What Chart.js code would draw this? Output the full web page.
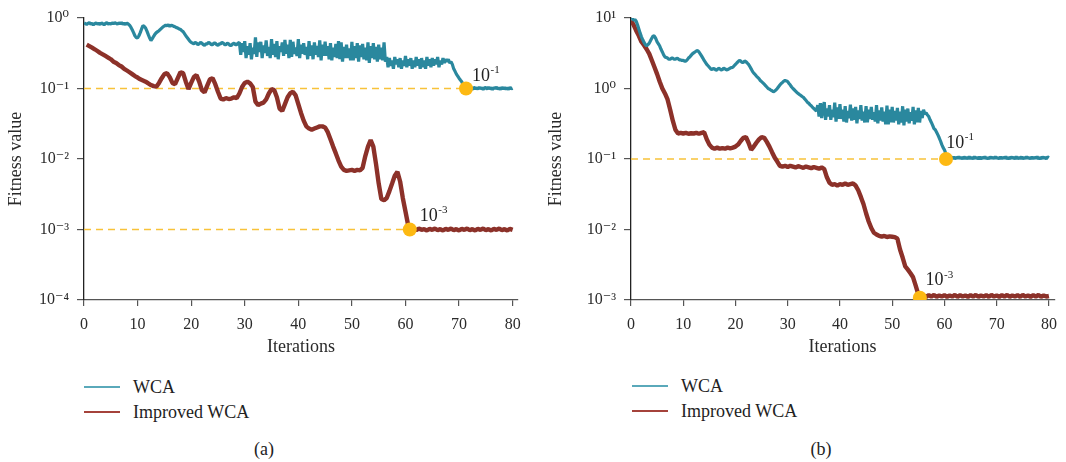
<!DOCTYPE html>
<html><head><meta charset="utf-8">
<script src="https://cdn.jsdelivr.net/npm/chart.js@4.4.1/dist/chart.umd.min.js"></script>
<style>
body{margin:0;width:1066px;height:462px;background:#fff;position:relative;overflow:hidden;font-family:'Liberation Serif','DejaVu Serif',serif;color:#222}
canvas{position:absolute;top:0}
#ca{left:0}
#cb{left:540px}
.lline{position:absolute;height:2px;width:36px}
.ltxt{position:absolute;font-size:18px;line-height:18px;transform:translateY(-50%);white-space:nowrap}
.cap{position:absolute;font-size:18px;line-height:18px;transform:translate(-50%,-50%)}
</style></head>
<body>
<canvas id="ca" width="530" height="370"></canvas>
<canvas id="cb" width="526" height="370"></canvas>

<div class="lline" style="left:84px;top:386px;background:#5aa9ba"></div>
<div class="ltxt" style="left:133px;top:387px">WCA</div>
<div class="lline" style="left:84px;top:411px;background:#a5423b"></div>
<div class="ltxt" style="left:133px;top:412px">Improved WCA</div>
<div class="cap" style="left:264px;top:449px">(a)</div>

<div class="lline" style="left:632px;top:385px;background:#5aa9ba"></div>
<div class="ltxt" style="left:681px;top:386px">WCA</div>
<div class="lline" style="left:632px;top:410px;background:#a5423b"></div>
<div class="ltxt" style="left:681px;top:411px">Improved WCA</div>
<div class="cap" style="left:821px;top:449px">(b)</div>

<script>
// ---------- data ----------
const iterationsFine = Array.from({length:321},(_,i)=>i/4); // 0, 0.25, ... 80  (WCA series)
const iterations = Array.from({length:161},(_,i)=>i/2);     // 0, 0.5, ... 80   (Improved WCA series)
const xTicks = [0,10,20,30,40,50,60,70,80];

const yTicksA = [1e-4,1e-3,1e-2,1e-1,1];
const yTickLabelsA = ['10⁻⁴','10⁻³','10⁻²','10⁻¹','10⁰'];
const yTicksB = [1e-3,1e-2,1e-1,1,10];
const yTickLabelsB = ['10⁻³','10⁻²','10⁻¹','10⁰','10¹'];

const wcaA = [
0.85,0.83,0.81,0.84,0.86,0.82,0.84,0.80,0.83,0.85,0.82,0.84,0.81,0.85,0.83,0.80,0.84,0.86,0.82,0.84,
0.82,0.85,0.83,0.86,0.84,0.82,0.85,0.83,0.86,0.82,0.84,0.81,0.85,0.82,0.79,0.74,0.68,0.62,0.56,0.53,
0.52,0.56,0.62,0.70,0.78,0.76,0.72,0.65,0.58,0.52,0.48,0.51,0.55,0.59,0.62,0.64,0.66,0.69,0.72,0.75,
0.77,0.79,0.78,0.80,0.76,0.79,0.78,0.76,0.75,0.73,0.72,0.70,0.69,0.66,0.64,0.60,0.56,0.53,0.50,0.47,
0.45,0.44,0.43,0.45,0.44,0.42,0.43,0.45,0.44,0.42,0.41,0.43,0.43,0.45,0.44,0.42,0.42,0.44,0.44,0.42,
0.41,0.43,0.43,0.45,0.44,0.42,0.42,0.44,0.43,0.41,0.41,0.43,0.44,0.42,0.42,0.44,0.45,0.30,0.44,0.33,
0.47,0.27,0.40,0.30,0.44,0.26,0.38,0.31,0.53,0.28,0.45,0.33,0.46,0.27,0.41,0.32,0.48,0.29,0.39,0.27,
0.50,0.30,0.43,0.28,0.47,0.26,0.40,0.33,0.45,0.29,0.49,0.31,0.42,0.27,0.49,0.28,0.46,0.31,0.38,0.29,
0.50,0.27,0.42,0.31,0.44,0.30,0.39,0.26,0.47,0.29,0.41,0.26,0.45,0.30,0.40,0.28,0.48,0.25,0.42,0.29,
0.46,0.29,0.40,0.26,0.44,0.25,0.38,0.28,0.43,0.27,0.47,0.26,0.45,0.24,0.39,0.27,0.42,0.27,0.37,0.25,
0.46,0.25,0.40,0.27,0.44,0.24,0.41,0.28,0.43,0.26,0.38,0.25,0.45,0.23,0.40,0.27,0.44,0.26,0.39,0.24,
0.42,0.26,0.38,0.25,0.45,0.24,0.28,0.20,0.27,0.21,0.25,0.19,0.28,0.22,0.26,0.20,0.27,0.19,0.25,0.21,
0.29,0.20,0.26,0.21,0.27,0.19,0.25,0.20,0.28,0.21,0.26,0.19,0.27,0.20,0.25,0.19,0.28,0.21,0.26,0.20,
0.27,0.21,0.26,0.22,0.28,0.20,0.25,0.22,0.27,0.23,0.26,0.24,0.26,0.23,0.24,0.22,0.19,0.175,0.16,0.15,
0.14,0.132,0.125,0.115,0.108,0.103,0.100,0.104,0.099,0.103,0.097,0.104,0.100,0.102,0.098,0.104,0.099,0.103,0.097,0.102,
0.103,0.098,0.104,0.099,0.102,0.097,0.103,0.100,0.104,0.098,0.102,0.097,0.104,0.099,0.103,0.098,0.102,0.097,0.104,0.099,
0.101];

const improvedA = [
null,0.42,0.40,0.38,0.36,0.34,0.32,0.305,0.29,0.275,
0.26,0.24,0.23,0.215,0.205,0.19,0.18,0.17,0.16,0.15,
0.143,0.135,0.13,0.125,0.118,0.112,0.108,0.106,0.12,0.14,
0.16,0.165,0.145,0.12,0.115,0.14,0.17,0.165,0.125,0.098,
0.12,0.145,0.155,0.125,0.095,0.088,0.11,0.135,0.14,0.115,
0.09,0.072,0.07,0.073,0.071,0.072,0.075,0.073,0.085,0.105,
0.12,0.125,0.118,0.105,0.065,0.058,0.061,0.063,0.07,0.085,
0.098,0.095,0.075,0.052,0.048,0.06,0.075,0.086,0.09,0.08,
0.06,0.045,0.035,0.029,0.027,0.026,0.027,0.028,0.029,0.029,
0.028,0.024,0.019,0.015,0.012,0.0095,0.0078,0.0070,0.0068,0.0069,
0.0070,0.0068,0.0070,0.0069,0.0075,0.011,0.015,0.0185,0.015,0.0085,
0.0045,0.0027,0.0026,0.0028,0.0035,0.0045,0.0058,0.0066,0.0048,0.0028,
0.0018,0.00115,0.00100,0.00102,0.00098,0.00103,0.00099,0.00101,0.00097,0.00102,
0.00099,0.00103,0.00098,0.00101,0.00097,0.00102,0.00099,0.00103,0.00098,0.00101,
0.00097,0.00102,0.00099,0.00103,0.00098,0.00101,0.00097,0.00102,0.00099,0.00103,
0.00098,0.00101,0.00097,0.00102,0.00099,0.00103,0.00098,0.00101,0.00097,0.00102,
0.00099];

const wcaB = [
9.7,9.9,9.3,9.5,9.0,8.0,7.0,6.1,5.4,4.9,4.5,4.2,4.0,4.2,4.4,4.8,5.2,5.6,5.5,5.1,
4.6,4.3,4.0,3.6,3.3,3.0,2.8,2.75,2.7,2.6,2.6,2.7,2.7,2.6,2.6,2.68,2.65,2.55,2.55,2.5,
2.5,2.45,2.45,2.55,2.7,2.8,2.95,3.1,3.2,3.3,3.4,3.45,3.3,3.1,2.9,2.7,2.5,2.35,2.2,2.1,
2.0,1.9,1.85,1.92,1.9,1.82,1.85,1.93,1.9,1.83,1.86,1.94,1.9,1.84,1.85,1.9,1.95,1.98,2.0,2.1,
2.2,2.3,2.4,2.5,2.45,2.35,2.35,2.45,2.4,2.3,2.2,2.05,1.9,1.75,1.65,1.58,1.5,1.44,1.38,1.3,
1.25,1.2,1.15,1.1,1.05,1.0,0.98,0.95,0.93,0.9,0.92,0.95,1.0,1.06,1.12,1.18,1.22,1.27,1.3,1.28,
1.25,1.18,1.12,1.05,1.0,0.96,0.92,0.88,0.85,0.82,0.8,0.77,0.75,0.71,0.68,0.64,0.62,0.59,0.57,0.54,
0.52,0.50,0.48,0.58,0.40,0.62,0.38,0.55,0.64,0.36,0.52,0.40,0.58,0.36,0.50,0.39,0.63,0.34,0.54,0.37,
0.60,0.37,0.50,0.34,0.56,0.33,0.48,0.38,0.59,0.35,0.52,0.36,0.55,0.32,0.49,0.37,0.58,0.35,0.47,0.33,
0.56,0.33,0.50,0.37,0.55,0.36,0.46,0.34,0.58,0.32,0.49,0.35,0.54,0.34,0.47,0.31,0.57,0.31,0.50,0.33,
0.55,0.33,0.48,0.35,0.53,0.31,0.47,0.33,0.56,0.30,0.50,0.34,0.52,0.32,0.46,0.35,0.55,0.31,0.49,0.33,
0.53,0.33,0.48,0.38,0.50,0.44,0.45,0.42,0.40,0.36,0.33,0.30,0.27,0.26,0.24,0.22,0.20,0.18,0.16,0.145,
0.135,0.12,0.11,0.103,0.102,0.108,0.101,0.107,0.100,0.106,0.102,0.108,0.101,0.106,0.100,0.107,0.102,0.105,0.101,0.108,
0.101,0.106,0.100,0.108,0.102,0.105,0.101,0.107,0.100,0.106,0.102,0.108,0.101,0.105,0.100,0.107,0.102,0.106,0.101,0.108,
0.102,0.105,0.100,0.107,0.101,0.106,0.102,0.108,0.100,0.105,0.101,0.107,0.102,0.106,0.100,0.108,0.101,0.105,0.102,0.107,
0.100,0.106,0.101,0.108,0.102,0.105,0.100,0.107,0.101,0.106,0.102,0.108,0.100,0.105,0.101,0.107,0.102,0.106,0.100,0.107,
0.104];

const improvedB = [
9.2,8.0,6.6,5.6,4.6,4.1,3.6,3.1,2.5,2.0,
1.6,1.25,1.0,0.85,0.7,0.5,0.35,0.26,0.23,0.235,
0.23,0.235,0.228,0.232,0.23,0.235,0.228,0.235,0.24,0.19,
0.16,0.145,0.14,0.145,0.14,0.143,0.14,0.145,0.142,0.145,
0.15,0.16,0.18,0.2,0.205,0.17,0.135,0.15,0.17,0.19,
0.205,0.2,0.175,0.15,0.125,0.105,0.092,0.08,0.078,0.08,
0.077,0.08,0.078,0.076,0.079,0.077,0.075,0.078,0.076,0.074,
0.077,0.075,0.073,0.076,0.072,0.055,0.046,0.043,0.044,0.042,
0.044,0.043,0.045,0.043,0.044,0.045,0.042,0.036,0.029,0.023,
0.017,0.013,0.0105,0.009,0.0085,0.0081,0.0079,0.0081,0.0078,0.008,
0.0079,0.0078,0.0074,0.0052,0.004,0.003,0.0027,0.0024,0.0021,0.0016,
0.0012,0.00112,0.00116,0.00111,0.00117,0.00112,0.00118,0.00111,0.00116,0.00112,
0.00117,0.00111,0.00116,0.00112,0.00118,0.00111,0.00117,0.00112,0.00116,0.00111,
0.00117,0.00112,0.00118,0.00111,0.00116,0.00112,0.00117,0.00111,0.00118,0.00112,
0.00116,0.00111,0.00117,0.00112,0.00118,0.00111,0.00116,0.00112,0.00117,0.00111,
0.00118,0.00112,0.00116,0.00111,0.00117,0.00112,0.00118,0.00111,0.00116,0.00112,
0.00114];

// convergence markers (iteration, value, exponent label)
const markA_x = [71.3, 60.8];
const markA_y = [0.1, 0.001];
const markA_sup = ['-1', '-3'];
const markB_x = [60.3, 55.3];
const markB_y = [0.1, 0.00108];
const markB_sup = ['-1', '-3'];

// ---------- styling ----------
const FONT = "'Liberation Serif','DejaVu Serif',serif";
const TEAL = '#2a889e';
const RED = '#8c3129';
const GOLD = '#fdb913';
const DASH = '#f8c23a';

function pts(xs, ys){ return xs.map((x,i)=>({x, y: ys[i]})).filter(p=>p.y!=null && p.y!==undefined); }

const supLabels = {
  id:'supLabels',
  afterDatasetsDraw(chart, args, opts){
    const {ctx} = chart; const x = chart.scales.x, y = chart.scales.y;
    (opts.items||[]).forEach(it=>{
      const px = x.getPixelForValue(it.x) + it.dx;
      const py = y.getPixelForValue(it.y) + it.dy;
      ctx.save();
      ctx.fillStyle = '#222'; ctx.textBaseline = 'middle'; ctx.textAlign = 'left';
      ctx.font = '18px ' + FONT;
      ctx.fillText('10', px, py);
      const w = ctx.measureText('10').width;
      ctx.font = '11px ' + FONT;
      ctx.fillText(it.sup, px + w + 0.5, py - 6);
      ctx.restore();
    });
  }
};

function makeChart(id, cfg){
  const datasets = [
    {label:'WCA', data: pts(iterationsFine, cfg.wca), borderColor: TEAL, borderWidth: 3.2, pointRadius: 0, tension: 0, borderJoinStyle:'bevel', order: cfg.wcaOrder},
    {label:'Improved WCA', data: pts(iterations, cfg.imp), borderColor: RED, borderWidth: 4.4, pointRadius: 0, tension: 0, borderJoinStyle:'bevel', order: cfg.impOrder},
    {label:'markers', data: pts(cfg.mx, cfg.my), showLine:false, pointRadius: 7, pointHoverRadius: 7, pointBackgroundColor: GOLD, pointBorderWidth: 0, order: 0}
  ];
  cfg.dashes.forEach((d,i)=>{
    datasets.push({label:'dash'+i, data: [{x:0, y:d[1]}, {x:d[0], y:d[1]}], borderColor: DASH, borderWidth: 1.4, borderDash:[7,5], pointRadius:0, order: 5});
  });
  return new Chart(document.getElementById(id), {
    type:'line',
    data:{datasets},
    plugins:[supLabels],
    options:{
      responsive:false, animation:false, events:[],
      layout:{padding:{top:18, right: cfg.padRight, left:0, bottom:0}},
      plugins:{legend:{display:false}, tooltip:{enabled:false},
        supLabels:{items: cfg.mx.map((x,i)=>({x, y: cfg.my[i], sup: cfg.sup[i], dx: cfg.lblOff[i][0], dy: cfg.lblOff[i][1]}))}},
      scales:{
        x:{type:'linear', min:0, max:81,
          afterBuildTicks: s => { s.ticks = xTicks.map(v=>({value:v})); },
          afterFit: s => { s.height = 70; },
          ticks:{font:{family:FONT, size:16}, color:'#2a2a2a', padding:9, maxRotation:0},
          grid:{display:true, drawOnChartArea:false, drawTicks:true, tickLength:6, color:'#555', lineWidth:1.2},
          border:{display:true, color:'#555', width:1.3},
          title:{display:true, text:'Iterations', font:{family:FONT, size:18}, color:'#2a2a2a', padding:{top:0, bottom:11.5}}
        },
        y:{type:'logarithmic', min: cfg.ymin, max: cfg.ymax,
          afterBuildTicks: s => { s.ticks = cfg.yt.map(v=>({value:v})); },
          afterFit: s => { s.width = cfg.yw; },
          ticks:{font:{family:FONT, size:16}, color:'#2a2a2a', padding:8,
            callback:(v)=>{ const k = cfg.yt.findIndex(t=>Math.abs(t-v)/t<1e-6); return k>=0 ? cfg.yl[k] : ''; }},
          grid:{display:true, drawOnChartArea:false, drawTicks:true, tickLength:7, color:'#555', lineWidth:1.2},
          border:{display:true, color:'#222', width:1.3},
          title:{display:true, text:'Fitness value', font:{family:FONT, size:18}, color:'#2a2a2a', padding:{top:5.4, bottom:0}}
        }
      }
    }
  });
}

makeChart('ca', {wca: wcaA, imp: improvedA, wcaOrder:2, impOrder:1, mx: markA_x, my: markA_y, sup: markA_sup,
  lblOff: [[6,-12.7],[10,-13.4]], dashes: [[markA_x[0], markA_y[0]], [markA_x[1], markA_y[1]]],
  ymin:1e-4, ymax:1, yt: yTicksA, yl: yTickLabelsA, yw:84, padRight:12});
makeChart('cb', {wca: wcaB, imp: improvedB, wcaOrder:1, impOrder:2, mx: markB_x, my: markB_y, sup: markB_sup,
  lblOff: [[0.3,-15.7],[5.6,-17]], dashes: [[markB_x[0], markB_y[0]]],
  ymin:1e-3, ymax:10, yt: yTicksB, yl: yTickLabelsB, yw:91, padRight:8});
</script>
</body></html>
